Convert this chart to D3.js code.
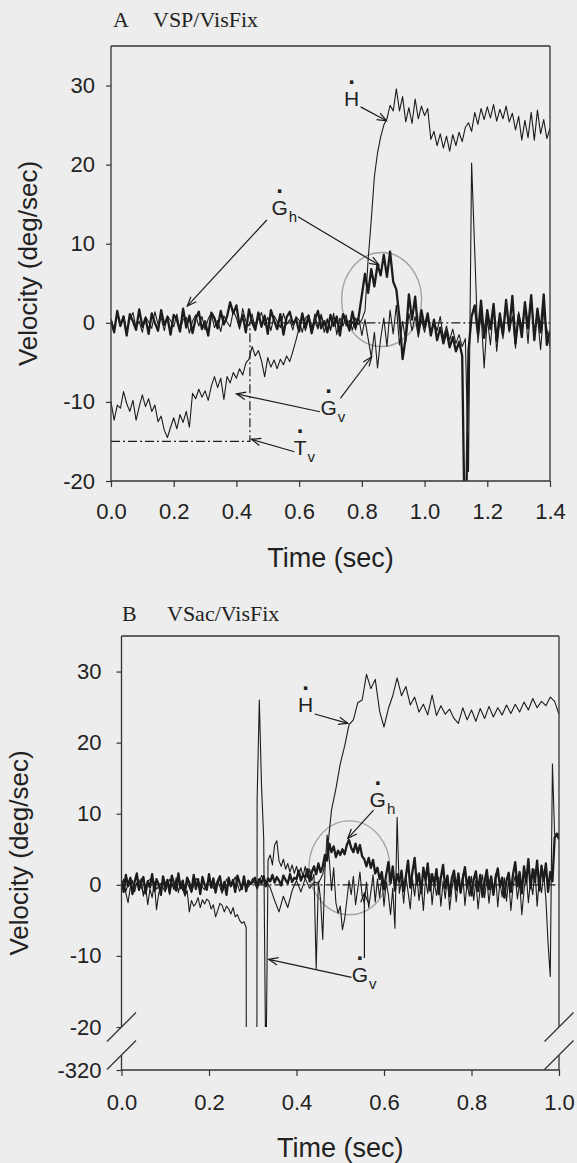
<!DOCTYPE html>
<html>
<head>
<meta charset="utf-8">
<script src="https://cdn.jsdelivr.net/npm/d3@7"></script>
<style>
  body { margin: 0; background: #ededed; }
  svg text { font-family: "Liberation Sans", Arial, sans-serif; fill: #222; }
</style>
</head>
<body>
<div id="chart"></div>
<script>
// ---------------- DATA ----------------
// Panel A  (VSP/VisFix), one sample every 10 ms from t = 0
var aStep = 0.01
var aHead = [0.5,-0.8,1.2,-0.3,0.9,-1.1,0.4,1.3,-0.6,0.2,
  -1.2,0.8,0.1,-0.7,1.4,-0.2,0.6,-1.0,0.9,0.3,
  -0.5,1.1,-0.9,0.4,0.7,-1.3,0.2,1.0,-0.4,0.8,
  -0.9,0.5,1.2,-0.6,0.3,-1.1,0.9,0.1,-0.5,1.5,
  0.6,-0.8,1.8,0.2,-0.4,1.1,-0.7,0.5,1.3,-0.3,
  0.7,-1.0,0.9,0.2,-0.6,1.2,-0.2,0.4,-0.9,0.8,
  0.3,-1.2,0.6,1.0,-0.5,0.2,-0.8,1.1,-0.3,0.5,
  -1.0,0.7,0.1,-0.6,1.0,-0.4,0.3,-0.9,0.6,-0.2,
  0.4,
  1.5,8,13,18.5,21.5,23.5,25,25.8,27.5,26.8,
  29.6,26.8,28.6,25.4,27.2,25.2,28.3,25.8,27.4,26.2,
  27.1,23.2,24.2,22.4,23.9,22.1,23.6,21.7,23.8,22.4,
  24.1,22.9,24.7,25.3,24.2,26.6,25.1,27.1,25.7,27.3,
  25.9,27.6,25.5,27.0,25.8,27.4,25.4,26.5,24.4,26.1,
  23.1,25.6,23.4,26.6,23.1,26.9,23.9,25.7,23.3,24.6]
var aGazeH = [0.3,-1.2,1.5,-0.4,0.8,-1.6,1.1,0.2,-0.9,1.7,
  -0.5,0.6,-1.4,1.2,0.0,-1.0,1.6,-0.3,0.7,-1.5,
  1.0,0.4,-1.1,1.8,-0.6,0.9,-1.3,0.5,1.4,-0.8,
  0.2,-1.6,1.3,0.6,-0.7,1.5,-0.2,0.8,2.6,1.2,
  2.2,-0.4,1.0,-1.2,1.7,0.1,-0.9,1.3,-0.5,0.9,
  -1.4,1.6,0.3,-0.8,1.1,-1.5,0.7,1.4,-0.2,0.5,
  -1.1,1.2,-0.6,0.9,-1.3,0.4,1.5,-0.7,0.2,-1.2,
  1.0,-0.4,0.8,-1.6,1.1,0.3,-0.9,1.4,-0.5,
  0.8,3.5,6.2,3.8,6.8,4.6,7.4,6.0,8.6,5.8,
  9.0,5.2,4.2,0.6,-4.6,-1.8,3.6,0.4,3.3,-1.2,
  1.6,-0.6,1.2,-1.6,0.4,-2.2,-0.6,-2.6,-1.0,-3.1,
  -1.8,-3.6,-2.4,-4.2,-32,-3.5,0.8,2.2,-1.4,2.8,
  -1.9,1.6,-0.8,2.4,-2.3,1.2,-1.5,2.9,-0.9,3.4,
  -2.6,1.0,-1.8,2.6,-0.7,3.5,-2.2,1.8,-1.2,3.6,
  -2.8,-1.0]
var aGazeV = [-10.0,-12.3,-10.4,-10.8,-8.7,-10.2,-11.2,-9.8,-12.3,-10.6,
  -9.1,-10.6,-9.6,-11.2,-10.4,-12.5,-11.8,-13.6,-14.5,-13.2,
  -12.0,-13.4,-11.6,-12.6,-11.2,-13.2,-8.9,-9.6,-8.4,-9.4,
  -8.6,-9.8,-8.0,-6.8,-8.2,-7.0,-9.7,-6.8,-7.6,-6.3,
  -7.0,-5.8,-6.6,-5.1,-4.6,-3.0,-4.2,-3.5,-4.8,-6.8,
  -4.4,-5.6,-4.7,-5.8,-4.6,-5.3,-4.2,-4.9,-3.6,-2.2,
  -0.6,
  0.8,-1.0,0.5,-1.4,1.1,-0.6,0.9,-1.2,0.3,-0.8,
  1.2,-1.5,0.6,-0.4,1.0,-1.1,0.2,-0.9,0.7,-1.6,
  0.4,-2.0,-4.3,-1.2,-5.7,-2.0,0.6,-3.0,1.6,-1.4,
  2.2,-2.8,0.2,-2.4,1.2,-1.0,0.8,-1.8,0.4,-1.2,
  0.6,-1.6,0.2,-1.0,0.8,-1.9,-0.4,-2.2,-0.8,-2.6,
  -1.5,-3.0,-2.0,-18.8,20.2,9.0,-2.5,1.2,-5.7,0.6,
  -2.8,1.9,-3.6,0.4,-2.0,2.2,-1.2,0.8,-3.2,1.4,
  -0.6,2.0,-2.6,3.2,-1.4,0.9,-3.4,1.5,-0.8,-3.0]
var aTargetT = [0, 0.443, 0.443, 1.4]
var aTargetV = [-15, -15, 0, 0]
var aXTicks = [0, 0.2, 0.4, 0.6, 0.8, 1.0, 1.2, 1.4]
var aYTicks = [-20, -10, 0, 10, 20, 30]

// Panel B  (VSac/VisFix): head every 10 ms, gaze every 5 ms
var bHeadStep = 0.01
var bGazeStep = 0.005
var bHead = [0.4,-0.9,1.1,-0.3,0.7,-1.2,0.5,1.0,-0.6,0.2,
  -1.0,0.8,-0.4,1.2,-0.8,0.3,-1.1,0.9,0.1,-0.7,
  1.0,-0.5,0.6,-1.2,0.8,-0.2,1.1,-0.9,0.4,-0.3,
  0.9,-0.6,1.3,0.5,-0.4,-2.2,-3.8,-1.6,-3.2,-0.8,
  0.6,-1.0,0.9,-0.5,0.4,0.2,
  1.5,4.5,10.5,13.5,17.0,19.5,22.5,23.2,25.6,26.0,
  29.6,27.6,28.9,24.4,22.2,24.8,26.6,29.1,26.6,27.9,
  25.3,26.4,24.3,25.4,23.9,26.7,23.8,25.2,24.0,24.7,
  23.4,22.7,24.9,23.2,24.6,23.0,24.8,23.4,25.1,23.6,
  24.9,23.9,25.3,24.1,25.4,24.3,25.7,24.6,26.2,24.9,
  25.8,25.2,26.4,25.8,24.0]
var bGazeH = [0.6,-1.0,1.4,-0.2,0.9,-1.3,0.4,1.6,-0.7,0.3,
  1.1,-1.2,0.5,-0.4,1.5,-0.9,0.8,0.1,-1.4,1.2,
  -0.3,0.7,-1.1,1.3,0.2,-0.8,1.6,-0.5,0.6,-1.2,
  1.0,0.3,-0.9,1.4,-0.6,0.8,-1.3,1.1,0.0,-0.7,
  1.5,-0.4,0.9,-1.1,0.5,1.2,-0.8,0.4,-1.4,1.0,
  -0.2,0.7,-1.0,1.3,0.3,-0.6,1.2,-0.9,0.6,0.1,
  0.4,1.0,-0.3,0.8,0.2,1.2,-0.2,0.9,0.5,1.4,
  0.3,1.1,0.6,-0.1,1.3,0.7,0.2,1.5,0.4,1.0,
  0.8,2.0,0.6,1.4,1.0,2.2,0.5,1.8,2.6,
  1.5,3.0,1.8,2.6,4.2,3.4,5.8,4.6,5.4,3.9,
  4.8,4.2,5.0,4.3,5.6,6.3,5.2,4.6,5.8,4.5,
  5.6,4.0,3.6,2.6,3.8,2.4,3.5,1.6,2.4,0.8,
  1.8,-0.6,1.4,3.2,0.2,2.6,-0.8,1.5,0.4,2.0,
  -0.9,1.2,3.4,-0.4,1.8,3.8,0.2,1.6,-1.2,2.4,
  0.6,3.0,-0.8,1.5,0.0,2.2,-1.3,1.0,2.8,-0.5,
  1.3,-1.6,0.9,2.0,-0.7,1.6,-1.1,0.8,2.5,-0.4,
  1.1,-1.5,0.7,1.9,-0.9,1.4,-1.7,0.5,2.1,-0.6,
  1.2,-1.4,0.9,2.3,-0.3,1.0,-1.8,0.6,1.7,-1.0,
  1.5,3.2,-0.2,1.8,-1.2,2.6,0.3,3.6,-0.5,2.2,
  0.4,3.4,-0.8,2.7,0.6,3.0,-1.0,1.8,0.5,6.6,
  7.2,6.4]
var bGazeV = [-0.5,0.8,-1.2,-2.5,-0.4,0.6,-1.0,0.3,-0.8,0.9,
  -1.6,-0.2,-2.8,-0.6,-1.8,0.4,-3.5,-1.2,-0.3,0.7,
  -0.9,0.5,-1.4,0.2,-0.7,1.0,-1.1,0.4,-0.5,-1.6,
  -0.8,-3.8,-2.2,-3.0,-2.6,-1.8,-3.2,-2.1,-2.7,-2.0,
  -2.3,-3.4,-2.8,-4.5,-3.6,-2.6,-2.9,-3.8,-3.0,-3.4,
  -4.1,-3.2,-4.5,-4.2,-5.0,-5.4,
  -5.2,-6.0,-320,-320,-320,-320,12,26,14,6.6,
  -28,3.5,4.2,2.8,5.6,6.2,3.4,2.6,3.6,2.2,
  3.0,1.8,2.8,1.6,2.6,1.4,2.4,1.2,2.6,1.0,
  2.2,0.6,1.5,-11.8,0.5,-2.0,-7.7,2.0,7.0,3.5,
  -0.8,2.4,-2.5,-4.0,-3.0,-6.3,-4.8,-2.2,0.6,-1.4,
  1.2,-2.8,-0.6,1.8,-1.5,-2.6,0.4,-3.2,-1.0,1.4,
  -2.4,0.8,-1.8,1.0,-3.0,0.4,-1.4,-4.2,-0.5,-6.1,
  9.5,-1.2,0.6,-2.6,1.2,-1.0,-3.4,0.8,-1.6,1.4,
  -2.2,0.2,-3.6,0.9,-1.2,1.6,-2.8,0.4,-1.5,1.1,
  -3.0,0.5,-1.9,1.3,-3.5,-0.6,1.0,-2.4,0.7,-1.2,
  1.5,-2.9,0.3,-1.6,1.2,-2.2,0.6,-3.4,-0.4,1.4,
  -1.8,0.9,-2.6,0.2,-1.3,1.6,-3.1,0.5,-1.7,1.0,
  -2.3,0.8,-3.6,-0.2,1.3,-2.0,0.4,-4.2,-0.8,1.7,
  -2.5,0.6,-1.4,2.2,-3.0,0.9,-1.1,1.5,-2.0,-8.2,
  -12.9,17.0,7.0,6.8,7.2]
var bTargetT = [0, 1]
var bTargetV = [0, 0]
var bXTicks = [0, 0.2, 0.4, 0.6, 0.8, 1.0]
var bYTicks = [-20, -10, 0, 10, 20, 30]
var bYLowTicks = [-320]

// annotation labels (time, velocity of the text baseline) and arrows [t1, v1, t2, v2]
var aLabels = [
  {sym: "H", sub: "",  t: 0.767, v: 27.4},
  {sym: "G", sub: "h", t: 0.538, v: 13.6},
  {sym: "G", sub: "v", t: 0.694, v: -11.66},
  {sym: "T", sub: "v", t: 0.603, v: -16.72}
]
var aArrows = [
  [0.796, 27.3, 0.8786, 25.55],
  [0.4969, 13.0, 0.2433, 2.12],
  [0.5964, 13.41, 0.8546, 7.31],
  [0.6665, -11.24, 0.4002, -8.98],
  [0.7316, -9.55, 0.8314, -4.29],
  [0.5849, -16.3, 0.4481, -14.73]
]
var aRing = {t: 0.863, v: 2.95, rt: 0.1276, rv: 5.94}

var bLabels = [
  {sym: "H", sub: "",  t: 0.4206, v: 24.35},
  {sym: "G", sub: "h", t: 0.5858, v: 10.99},
  {sym: "G", sub: "v", t: 0.5447, v: -13.63}
]
var bArrows = [
  [0.4416, 24.03, 0.5173, 22.72],
  [0.5762, 10.52, 0.5173, 6.54],
  [0.5257, -13.01, 0.3365, -10.48],
  [0.5552, -10.3, 0.5552, -1.15]
]
var bRing = {t: 0.521, v: 2.39, rt: 0.0926, rv: 6.61}

// ---------------- DRAWING ----------------
var W = 577, H = 1163
var ink = "#1c1c1c"
var plain = function(d) { return d3.format(".1f")(d) }
var hyphenInt = function(d) { return String(d) } // plain hyphen minus like the original

var svg = d3.select("#chart").append("svg")
  .attr("width", W)
  .attr("height", H)

svg.append("rect").attr("width", W).attr("height", H).attr("fill", "#ededed")

var panels = [
  {
    id: "A", letter: "A", name: "VSP/VisFix",
    titleX: 113, nameX: 153, titleY: 27,
    x: d3.scaleLinear().domain([0, 1.4]).range([111, 550]),
    y: d3.scaleLinear().domain([-20, 35]).range([481, 46]),
    yLow: null,
    xTicks: aXTicks, yTicks: aYTicks,
    yPad: 11, xPad: 16,
    yLabelX: 37, timeY: 567,
    series: [
      {step: aStep, values: aGazeV, w: 1.1},
      {step: aStep, values: aHead, w: 1.1},
      {step: aStep, values: aGazeH, w: 2.3}
    ],
    targetT: aTargetT, targetV: aTargetV,
    labels: aLabels, arrows: aArrows, ring: aRing
  },
  {
    id: "B", letter: "B", name: "VSac/VisFix",
    titleX: 122, nameX: 167, titleY: 621,
    x: d3.scaleLinear().domain([0, 1.0]).range([121.5, 559]),
    y: d3.scaleLinear().domain([-20, 35]).range([1027, 636]),
    yLow: d3.scaleLinear().domain([-320, -300]).range([1070, 1055]),
    xTicks: bXTicks, yTicks: bYTicks,
    yPad: 15, xPad: 18,
    yLabelX: 28, timeY: 1157,
    series: [
      {step: bGazeStep, values: bGazeV, w: 1.1},
      {step: bHeadStep, values: bHead, w: 1.1},
      {step: bGazeStep, values: bGazeH, w: 2.3}
    ],
    targetT: bTargetT, targetV: bTargetV,
    labels: bLabels, arrows: bArrows, ring: bRing
  }
]

panels.forEach(function(p) {
  var x = p.x, y = p.y
  var x0 = x.range()[0], x1 = x.range()[1]
  var yTop = y(35), yBot = y(-20)
  var axisBottomY = p.yLow ? p.yLow(-320) : yBot

  var g = svg.append("g").attr("class", "panel-" + p.id)

  // title
  var title = g.append("text")
    .attr("y", p.titleY)
    .style("font-family", "'Liberation Serif', 'Times New Roman', serif")
    .style("font-size", "22px")
  title.append("tspan").attr("x", p.titleX).text(p.letter)
  title.append("tspan").attr("x", p.nameX).text(p.name)

  svg.append("clipPath").attr("id", "clip-" + p.id)
    .append("rect")
    .attr("x", x0).attr("y", yTop)
    .attr("width", x1 - x0).attr("height", yBot - yTop)

  var plot = g.append("g").attr("clip-path", "url(#clip-" + p.id + ")")

  // target velocity (dash-dot)
  var tgt = p.targetT.map(function(t, i) { return [t, p.targetV[i]] })
  plot.append("path")
    .datum(tgt)
    .attr("d", d3.line().x(d => x(d[0])).y(d => y(d[1])))
    .attr("fill", "none")
    .attr("stroke", ink)
    .attr("stroke-width", 1.2)
    .attr("stroke-dasharray", "9,3,2,3")

  // gray ring
  plot.append("ellipse")
    .attr("cx", x(p.ring.t)).attr("cy", y(p.ring.v))
    .attr("rx", x(p.ring.t + p.ring.rt) - x(p.ring.t))
    .attr("ry", y(p.ring.v) - y(p.ring.v + p.ring.rv))
    .attr("fill", "none")
    .attr("stroke", "#a4a4a4")
    .attr("stroke-width", 1.4)

  // traces
  p.series.forEach(function(s) {
    var line = d3.line()
      .x(function(d, i) { return x(i * s.step) })
      .y(function(d) { return y(d) })
    plot.append("path")
      .datum(s.values)
      .attr("d", line)
      .attr("fill", "none")
      .attr("stroke", ink)
      .attr("stroke-width", s.w)
      .attr("stroke-linejoin", "round")
  })

  // axes
  var xAxis = d3.axisBottom(x).tickValues(p.xTicks).tickFormat(plain)
    .tickSizeInner(6).tickSizeOuter(0).tickPadding(p.xPad)
  var yAxis = d3.axisLeft(y).tickValues(p.yTicks).tickFormat(hyphenInt)
    .tickSizeInner(5).tickSizeOuter(0).tickPadding(p.yPad)

  var styleAxis = function(a) {
    a.select(".domain").remove()
    a.selectAll("line").attr("stroke", "#333").attr("stroke-width", 1.2)
    a.selectAll("text").style("font-size", "22px").attr("fill", "#222")
      .style("font-family", "'Liberation Sans', Arial, sans-serif")
  }

  g.append("g").attr("transform", "translate(0," + axisBottomY + ")").call(xAxis).call(styleAxis)
  g.append("g").attr("transform", "translate(" + x0 + ",0)").call(yAxis).call(styleAxis)
  if (p.yLow) {
    g.append("g").attr("transform", "translate(" + x0 + ",0)")
      .call(d3.axisLeft(p.yLow).tickValues(bYLowTicks).tickFormat(hyphenInt)
        .tickSizeInner(5).tickSizeOuter(0).tickPadding(p.yPad))
      .call(styleAxis)
  }

  // frame
  var frame = g.append("g").attr("stroke", "#333").attr("stroke-width", 1.3).attr("fill", "none")
  frame.append("line").attr("x1", x0).attr("x2", x1).attr("y1", yTop).attr("y2", yTop)
  frame.append("line").attr("x1", x0).attr("x2", x1).attr("y1", axisBottomY).attr("y2", axisBottomY)
  if (!p.yLow) {
    frame.append("line").attr("x1", x0).attr("x2", x0).attr("y1", yTop).attr("y2", yBot)
    frame.append("line").attr("x1", x1).attr("x2", x1).attr("y1", yTop).attr("y2", yBot)
  } else {
    var breakEnd = p.yLow.range()[1]
    ;[x0, x1].forEach(function(xx) {
      frame.append("line").attr("x1", xx).attr("x2", xx).attr("y1", yTop).attr("y2", yBot)
      frame.append("line").attr("x1", xx).attr("x2", xx).attr("y1", breakEnd).attr("y2", axisBottomY)
      ;[yBot, breakEnd].forEach(function(yy) {
        frame.append("line")
          .attr("x1", xx - 14.5).attr("y1", yy + 14.5)
          .attr("x2", xx + 14.5).attr("y2", yy - 14.5)
      })
    })
  }

  // axis titles
  g.append("text")
    .attr("transform", "translate(" + p.yLabelX + "," + ((yTop + axisBottomY) / 2) + ") rotate(-90)")
    .attr("text-anchor", "middle")
    .style("font-size", "26px")
    .text("Velocity (deg/sec)")

  g.append("text")
    .attr("x", (x0 + x1) / 2)
    .attr("y", p.timeY)
    .attr("text-anchor", "middle")
    .style("font-size", "27px")
    .text("Time (sec)")

  // annotation arrows
  p.arrows.forEach(function(a) {
    var ax1 = x(a[0]), ay1 = y(a[1]), ax2 = x(a[2]), ay2 = y(a[3])
    var ang = Math.atan2(ay2 - ay1, ax2 - ax1)
    var len = 10, spread = 0.38
    var head = "M" + (ax2 - len * Math.cos(ang - spread)) + "," + (ay2 - len * Math.sin(ang - spread)) +
      "L" + ax2 + "," + ay2 +
      "L" + (ax2 - len * Math.cos(ang + spread)) + "," + (ay2 - len * Math.sin(ang + spread))
    g.append("line")
      .attr("x1", ax1).attr("y1", ay1).attr("x2", ax2).attr("y2", ay2)
      .attr("stroke", ink).attr("stroke-width", 1.2)
    g.append("path").attr("d", head)
      .attr("fill", "none").attr("stroke", ink).attr("stroke-width", 1.2)
  })

  // annotation labels: letter, raised overdot (time derivative) and subscript
  p.labels.forEach(function(l) {
    var lx = x(l.t), ly = y(l.v)
    var t = g.append("text")
      .attr("x", lx).attr("y", ly)
      .attr("text-anchor", "middle")
      .style("font-size", "21px")
      .text(l.sym)
    g.append("text")
      .attr("x", lx).attr("y", ly - 22)
      .attr("text-anchor", "middle")
      .style("font-size", "24px")
      .style("font-weight", "bold")
      .text(".")
    if (l.sub) {
      var wdt = t.node().getComputedTextLength()
      g.append("text")
        .attr("x", lx + wdt / 2 + 1)
        .attr("y", ly + 7)
        .style("font-size", "15px")
        .text(l.sub)
    }
  })
})
</script>
</body>
</html>
